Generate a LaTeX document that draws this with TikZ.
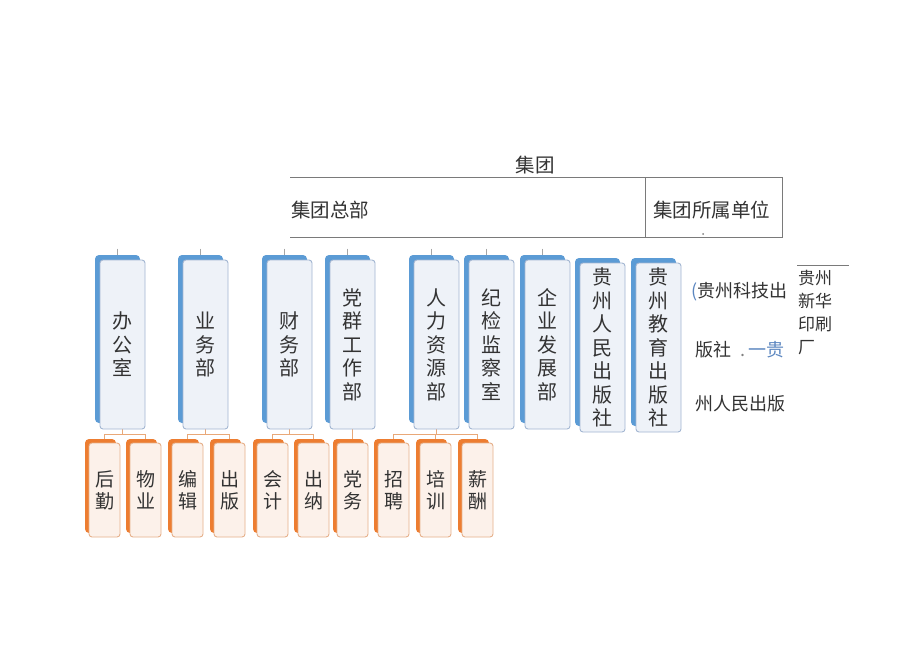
\documentclass[tikz,border=0pt]{standalone}
\usepackage{fontspec}
\setmainfont{Noto Sans CJK SC}
\pgfdeclarelayer{background}
\pgfsetlayers{background,main}
\definecolor{bback}{HTML}{5B9BD5}
\definecolor{bfill}{HTML}{EEF2F8}
\definecolor{bdraw}{HTML}{A3B6D2}
\definecolor{oback}{HTML}{ED7D31}
\definecolor{ofill}{HTML}{FCF1EA}
\definecolor{odraw}{HTML}{E6B08A}
\definecolor{txt}{HTML}{333333}
\definecolor{lnk}{HTML}{E9A878}
\definecolor{blu}{HTML}{5B86C0}
\definecolor{tline}{HTML}{7A7A7A}
\tikzset{
  bluebox/.style={draw=bdraw, line width=0.9pt, fill=bfill, rounded corners=3pt,
    minimum width=45pt, inner sep=0pt, align=center,
    font=\fontsize{20}{23.5}\selectfont, text=txt},
  orangebox/.style={draw=odraw, line width=0.9pt, fill=ofill, rounded corners=3pt,
    minimum width=31pt, minimum height=94pt, inner sep=0pt, align=center,
    font=\fontsize{19}{22}\selectfont, text=txt},
  conn/.style={draw=lnk, line width=0.9pt},
  topline/.style={draw=gray!70, line width=0.6pt},
  tbl/.style={draw=tline, line width=0.8pt},
  plain/.style={inner sep=0pt, text=txt, font=\fontsize{19.5}{22}\selectfont},
  rtext/.style={inner sep=0pt, text=txt, font=\fontsize{18}{22}\selectfont},
}
% name, left, top, bottom, text
\newcommand\MyBlue[5]{%
  \fill[bback, rounded corners=4pt] (#2-5,#3-5) rectangle (#2+40,#4-6);
  \node[bluebox, minimum height={(#4-#3)*1pt}] (#1) at ({#2+22.5},{(#3+#4)/2}) {#5};
}
% name, left, text
\newcommand\MyOrange[3]{%
  \fill[oback, rounded corners=4pt] (#2-4,439) rectangle (#2+27,533);
  \node[orangebox] (#1) at ({#2+15.5},490) {#3};
}
\begin{document}
\begin{tikzpicture}[x=1pt,y=-1pt]
\useasboundingbox (0,0) rectangle (920,651);
\begin{pgfonlayer}{background}
\fill[white] (0,0) rectangle (920,651);
\end{pgfonlayer}

% header table
\node[plain] (jt) at (535,165) {集团};
\draw[tbl] (290,177) -- (782,177) -- (782,237) -- (290,237);
\draw[tbl] (645,177) -- (645,237);
\node[plain, anchor=west] (zb) at (291,210) {集团总部};
\node[plain, anchor=west] (ss) at (653,210) {集团所属单位};
\fill[gray] (703,234) circle (1pt);

% blue boxes
\MyBlue{b1}{100}{260}{429}{办\\公\\室}
\MyBlue{b2}{183}{260}{429}{业\\务\\部}
\MyBlue{b3}{267}{260}{429}{财\\务\\部}
\MyBlue{b4}{330}{260}{429}{党\\群\\工\\作\\部}
\MyBlue{b5}{414}{260}{429}{人\\力\\资\\源\\部}
\MyBlue{b6}{469}{260}{429}{纪\\检\\监\\察\\室}
\MyBlue{b7}{525}{260}{429}{企\\业\\发\\展\\部}
\MyBlue{b8}{580}{263}{432}{贵\\州\\人\\民\\出\\版\\社}
\MyBlue{b9}{636}{263}{432}{贵\\州\\教\\育\\出\\版\\社}

% orange boxes
\MyOrange{o1}{89}{后\\勤}
\MyOrange{o2}{130}{物\\业}
\MyOrange{o3}{172}{编\\辑}
\MyOrange{o4}{214}{出\\版}
\MyOrange{o5}{257}{会\\计}
\MyOrange{o6}{298}{出\\纳}
\MyOrange{o7}{337}{党\\务}
\MyOrange{o8}{378}{招\\聘}
\MyOrange{o9}{420}{培\\训}
\MyOrange{o10}{462}{薪\\酬}

% tick stubs above blue boxes
\foreach \b in {b1,b2,b3,b4,b5,b6,b7}{
  \coordinate (t\b) at ([xshift=-5.5pt,yshift=11pt]\b.north);
}
\begin{pgfonlayer}{background}
\foreach \b in {b1,b2,b3,b4,b5,b6,b7}{
  \draw[topline] (t\b) -- ([xshift=-5.5pt]\b.north);
}
% connectors
\foreach \p/\c in {b1/o1,b1/o2,b2/o3,b2/o4,b3/o5,b3/o6,b4/o7,b5/o8,b5/o9,b5/o10}{
  \draw[conn] (\p.south) -- ++(0,5) -| (\c.north);
}
\end{pgfonlayer}

% right-side texts
\node[rtext, anchor=west] (r1) at (691,292) {\textcolor{blu}{(}贵州科技出};
\node[rtext, anchor=west] (r2) at (695,350) {版社\hspace{9pt}\textcolor{gray}{.}\hspace{3pt}\textcolor{blu}{一贵}};
\node[rtext, anchor=west] (r3) at (695,404) {州人民出版};
\draw[tbl] (797,265) -- (849,265);
\node[inner sep=0pt, text=txt, anchor=north west, align=left,
      font=\fontsize{17}{23}\selectfont] (r4) at (798,270) {贵州\\新华\\印刷\\厂};
\end{tikzpicture}
\end{document}
